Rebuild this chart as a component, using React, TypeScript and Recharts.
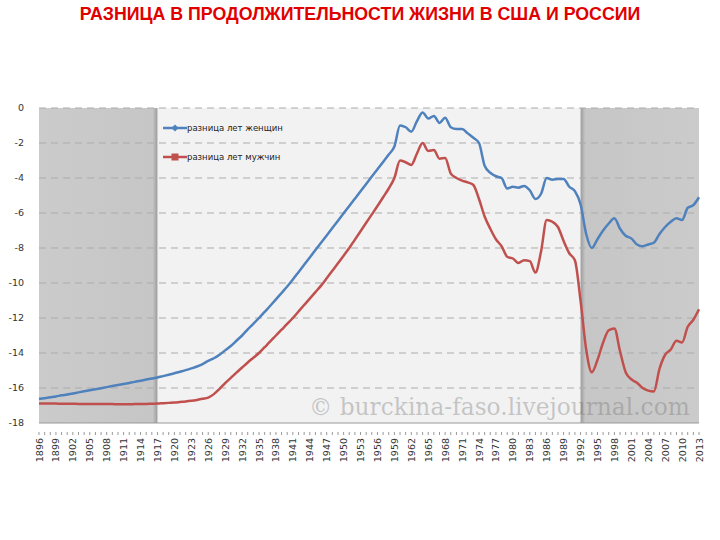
import {
  LineChart,
  Line,
  XAxis,
  YAxis,
  ReferenceArea,
  ReferenceLine,
} from "recharts";

const firstYear = 1896;
const lastYear = 2013;
const years: string[] = [];
for (let y = firstYear; y <= lastYear; y++) years.push(String(y));

// разница лет женщин (1896..2013)
const women = [
  -16.63, -16.58, -16.53, -16.48, -16.42, -16.37, -16.31, -16.25, -16.19, -16.13,
  -16.07, -16.01, -15.95, -15.89, -15.83, -15.77, -15.71, -15.65, -15.58, -15.52,
  -15.46, -15.4, -15.32, -15.24, -15.16, -15.07, -14.98, -14.88, -14.77, -14.63,
  -14.45, -14.3, -14.1, -13.85, -13.6, -13.3, -13.0, -12.65, -12.33, -12.0,
  -11.65, -11.3, -10.94, -10.57, -10.2, -9.8, -9.38, -8.96, -8.54, -8.12,
  -7.7, -7.28, -6.86, -6.44, -6.02, -5.6, -5.18, -4.76, -4.34, -3.92,
  -3.5, -3.08, -2.66, -2.2, -1.0, -1.1, -1.35, -0.75, -0.25, -0.6,
  -0.45, -0.85, -0.55, -1.1, -1.2, -1.2, -1.45, -1.7, -2.0, -3.3,
  -3.7, -3.9, -4.0, -4.6, -4.5, -4.55, -4.45, -4.7, -5.2, -4.9,
  -4.0, -4.1, -4.05, -4.05, -4.5, -4.75, -5.5, -7.2, -8.0, -7.5,
  -7.0, -6.6, -6.3, -6.9, -7.3, -7.45, -7.8, -7.9, -7.8, -7.7,
  -7.2, -6.8, -6.5, -6.3, -6.4, -5.7, -5.55, -5.1,
];

// разница лет мужчин (1896..2013)
const men = [
  -16.88, -16.88, -16.89, -16.89, -16.9, -16.9, -16.9, -16.91, -16.91, -16.91,
  -16.92, -16.92, -16.92, -16.92, -16.93, -16.93, -16.93, -16.92, -16.92, -16.91,
  -16.9, -16.89, -16.87, -16.85, -16.83, -16.8, -16.77, -16.73, -16.68, -16.62,
  -16.55, -16.35, -16.05, -15.72, -15.42, -15.12, -14.83, -14.54, -14.27, -14.0,
  -13.67, -13.34, -13.0, -12.67, -12.34, -12.0, -11.63, -11.26, -10.89, -10.52,
  -10.15, -9.73, -9.3, -8.87, -8.44, -8.0, -7.52, -7.04, -6.56, -6.08,
  -5.6, -5.1, -4.6, -4.0, -3.0, -3.1, -3.25, -2.6, -2.0, -2.45,
  -2.4, -2.9, -2.85, -3.75, -4.0, -4.15, -4.25, -4.4, -5.2, -6.2,
  -6.9, -7.5, -7.9, -8.5, -8.6, -8.85, -8.7, -8.75, -9.4, -8.2,
  -6.4, -6.5, -6.8, -7.6, -8.3, -8.7, -11.0, -13.8, -15.1, -14.4,
  -13.4, -12.7, -12.6, -13.9, -15.1, -15.5, -15.7, -16.0, -16.15, -16.2,
  -14.9, -14.1, -13.8, -13.3, -13.4, -12.5, -12.1, -11.5,
];

const yTicks = [0, -2, -4, -6, -8, -10, -12, -14, -16, -18];
const gridLines = [0, -2, -4, -6, -8, -10, -12, -14, -16];

const seriesNames = ["разница лет женщин", "разница лет мужчин"];

const data = years.map((y, i) => ({ year: y, women: women[i], men: men[i] }));

const BLUE = "#4f81bd";
const RED = "#c0504d";

const YearTick = (props: any) => {
  const { x, y, payload } = props;
  const yr = Number(payload.value);
  return (
    <g>
      <line x1={x} y1={y - 6} x2={x} y2={y - 3} stroke="#999" strokeWidth={1} />
      {yr % 3 === 0 && (
        <text
          x={x}
          y={y}
          dy={3.5}
          transform={`rotate(-90, ${x}, ${y})`}
          textAnchor="end"
          fontSize={9.5}
          fontFamily="DejaVu Sans, sans-serif"
          fill="#333"
        >
          {payload.value}
        </text>
      )}
    </g>
  );
};

const LegendBox = () => (
  <div
    style={{
      position: "absolute",
      left: 163,
      top: 121,
      fontFamily: "DejaVu Sans, sans-serif",
      fontSize: 8.5,
      color: "#222",
    }}
  >
    <div style={{ display: "flex", alignItems: "center", height: 14, marginBottom: 15 }}>
      <svg width={24} height={10}>
        <line x1={0} y1={5} x2={24} y2={5} stroke={BLUE} strokeWidth={2.5} />
        <path d="M12,1.5 L15.5,5 L12,8.5 L8.5,5 Z" fill={BLUE} />
      </svg>
      <span>{seriesNames[0]}</span>
    </div>
    <div style={{ display: "flex", alignItems: "center", height: 14 }}>
      <svg width={24} height={10}>
        <line x1={0} y1={5} x2={24} y2={5} stroke={RED} strokeWidth={2.5} />
        <rect x={8.5} y={1.5} width={7} height={7} fill={RED} />
      </svg>
      <span>{seriesNames[1]}</span>
    </div>
  </div>
);

export default function App() {
  return (
    <div
      style={{
        position: "absolute",
        left: 0,
        top: 0,
        width: 720,
        height: 540,
        background: "#fff",
      }}
    >
      <div
        style={{
          position: "absolute",
          top: 4,
          left: 0,
          width: 720,
          textAlign: "center",
          fontFamily: "Liberation Sans, Arial, sans-serif",
          fontWeight: "bold",
          fontSize: 17.8,
          color: "#e00000",
        }}
      >
        РАЗНИЦА В ПРОДОЛЖИТЕЛЬНОСТИ ЖИЗНИ В США И РОССИИ
      </div>
      <LineChart
        width={720}
        height={540}
        data={data}
        margin={{ top: 108, right: 21, left: 0, bottom: 77 }}
      >
        <defs>
          <linearGradient id="leftShade" x1="0" y1="0" x2="1" y2="0">
            <stop offset="0%" stopColor="#cbcbcb" />
            <stop offset="96%" stopColor="#c6c6c6" />
            <stop offset="100%" stopColor="#9c9c9c" />
          </linearGradient>
          <linearGradient id="rightShade" x1="0" y1="0" x2="1" y2="0">
            <stop offset="0%" stopColor="#9c9c9c" />
            <stop offset="4%" stopColor="#c6c6c6" />
            <stop offset="100%" stopColor="#cbcbcb" />
          </linearGradient>
        </defs>
        <ReferenceArea x1="1917" x2="1992" y1={0} y2={-18} fill="#f2f2f2" fillOpacity={1} />
        <ReferenceArea x1="1896" x2="1917" y1={0} y2={-18} fill="url(#leftShade)" fillOpacity={1} />
        <ReferenceArea x1="1992" x2="2013" y1={0} y2={-18} fill="url(#rightShade)" fillOpacity={1} />
        {gridLines.map((g) => (
          <ReferenceLine key={g} y={g} stroke="#ababab" strokeDasharray="7 5" />
        ))}
        <XAxis
          dataKey="year"
          interval={0}
          tick={<YearTick />}
          tickLine={false}
          axisLine={{ stroke: "#999" }}
          tickMargin={9}
          height={40}
          padding={{ left: 0, right: 0 }}
        />
        <YAxis
          domain={[-18, 0]}
          ticks={yTicks}
          width={39}
          axisLine={false}
          tickLine={false}
          tickMargin={9}
          tick={{ fontSize: 9.5, fill: "#333", fontFamily: "DejaVu Sans, sans-serif" }}
        />
        <Line
          type="monotone"
          dataKey="women"
          stroke={BLUE}
          strokeWidth={2.5}
          dot={false}
          isAnimationActive={false}
        />
        <Line
          type="monotone"
          dataKey="men"
          stroke={RED}
          strokeWidth={2.5}
          dot={false}
          isAnimationActive={false}
        />
      </LineChart>
      <LegendBox />
      <div
        style={{
          position: "absolute",
          left: 309,
          top: 393,
          fontFamily: "DejaVu Serif, serif",
          fontSize: 23.3,
          color: "rgba(110,110,110,0.35)",
          pointerEvents: "none",
          whiteSpace: "nowrap",
        }}
      >
        © burckina-faso.livejournal.com
      </div>
    </div>
  );
}
